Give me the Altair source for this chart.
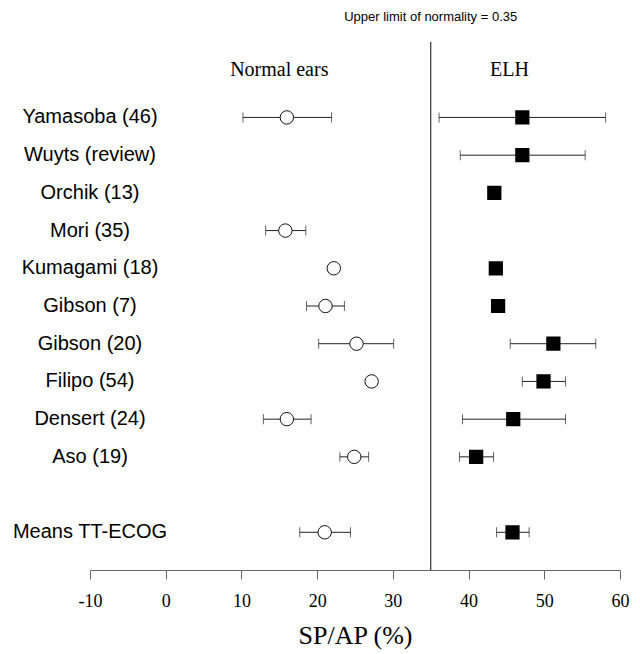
import altair as alt
import pandas as pd

names = ["Yamasoba (46)", "Wuyts (review)", "Orchik (13)", "Mori (35)", "Kumagami (18)",
         "Gibson (7)", "Gibson (20)", "Filipo (54)", "Densert (24)", "Aso (19)", "Means TT-ECOG"]
order = [0, 1, 2, 3, 4, 5, 6, 7, 8, 9, 11]
normal_mean = [16.0, None, None, 15.8, 22.2, 21.1, 25.2, 27.2, 16.0, 24.9, 21.0]
normal_lo = [10.2, None, None, 13.2, None, 18.6, 20.2, None, 12.9, 23.0, 17.7]
normal_hi = [21.9, None, None, 18.5, None, 23.6, 30.1, None, 19.2, 26.8, 24.4]
elh_mean = [47.1, 47.1, 43.4, None, 43.6, 43.9, 51.2, 49.9, 45.9, 41.0, 45.8]
elh_lo = [36.1, 38.9, None, None, None, None, 45.5, 47.1, 39.2, 38.8, 43.7]
elh_hi = [58.1, 55.4, None, None, None, None, 56.8, 52.8, 52.8, 43.3, 48.0]
x_ticks = [-10, 0, 10, 20, 30, 40, 50, 60]
limit = 35

rows = []
for i, n in enumerate(names):
    rows.append(dict(name=n, order=order[i], group="Normal ears", mean=normal_mean[i],
                     lo=normal_lo[i], hi=normal_hi[i]))
    rows.append(dict(name=n, order=order[i], group="ELH", mean=elh_mean[i],
                     lo=elh_lo[i], hi=elh_hi[i]))
df = pd.DataFrame(rows)
pts = df.dropna(subset=["mean"])
errs = df.dropna(subset=["lo", "hi"])
labels = pd.DataFrame({"name": names, "order": order})

xscale = alt.Scale(domain=[-10, 60], nice=False, zero=False)
yscale = alt.Scale(domain=[-2, 12], reverse=True, nice=False, zero=False)

xaxis = alt.Axis(values=x_ticks, grid=False, title="SP/AP (%)", labelFlush=False,
                 labelExpr="datum.value < 0 ? '-' + abs(datum.value) : '' + datum.value",
                 labelFont="Liberation Serif", labelFontSize=18, labelColor="black",
                 labelPadding=13, tickSize=9, tickColor="#666", domainColor="#666",
                 titleFont="Liberation Serif", titleFontSize=26, titleFontWeight="normal",
                 titleColor="black", titlePadding=12)

base_err = alt.Chart(errs)
err_line = base_err.mark_rule(color="#222", strokeWidth=1).encode(
    x=alt.X("lo:Q", scale=xscale, axis=xaxis), x2="hi:Q",
    y=alt.Y("order:Q", scale=yscale, axis=None))
cap_lo = base_err.mark_tick(orient="vertical", size=10, thickness=1, color="#222").encode(
    x=alt.X("lo:Q", scale=xscale), y=alt.Y("order:Q", scale=yscale))
cap_hi = base_err.mark_tick(orient="vertical", size=10, thickness=1, color="#222").encode(
    x=alt.X("hi:Q", scale=xscale), y=alt.Y("order:Q", scale=yscale))

normal_pts = alt.Chart(pts[pts.group == "Normal ears"]).mark_point(
    shape="circle", size=180, filled=True, fill="white", stroke="#111", strokeWidth=1, opacity=1
).encode(x=alt.X("mean:Q", scale=xscale), y=alt.Y("order:Q", scale=yscale))
elh_pts = alt.Chart(pts[pts.group == "ELH"]).mark_point(
    shape="square", size=150, filled=True, fill="black", stroke="black", opacity=1
).encode(x=alt.X("mean:Q", scale=xscale), y=alt.Y("order:Q", scale=yscale))

vline = alt.Chart(pd.DataFrame({"v": [limit]})).mark_rule(color="#444", strokeWidth=1.3).encode(
    x=alt.X("v:Q", scale=xscale))

name_text = alt.Chart(labels).mark_text(
    font="Liberation Sans", fontSize=20, align="center", baseline="middle", color="black"
).encode(x=alt.datum(-10, scale=xscale), y=alt.Y("order:Q", scale=yscale), text="name:N")

headers = pd.DataFrame({"label": ["Normal ears", "ELH"], "x": [15, 45.4], "y": [-1.25, -1.25]})
head_text = alt.Chart(headers).mark_text(
    font="Liberation Serif", fontSize=20, align="center", baseline="middle", color="black"
).encode(x=alt.X("x:Q", scale=xscale), y=alt.Y("y:Q", scale=yscale), text="label:N")

top_note = pd.DataFrame({"label": ["Upper limit of normality = 0.35"], "x": [limit], "y": [-2.66]})
note_text = alt.Chart(top_note).mark_text(
    font="Liberation Sans", fontSize=13, align="center", baseline="middle", color="black"
).encode(x=alt.X("x:Q", scale=xscale), y=alt.Y("y:Q", scale=yscale), text="label:N")

chart = alt.layer(vline, err_line, cap_lo, cap_hi, normal_pts, elh_pts, name_text,
                  head_text, note_text).properties(
    width=530, height=528, autosize="none",
    padding={"left": 82, "top": 34, "right": 12, "bottom": 80},
    background="white"
).configure_view(stroke=None)

chart.save("out.html", embed_options={"renderer": "svg", "actions": False})
